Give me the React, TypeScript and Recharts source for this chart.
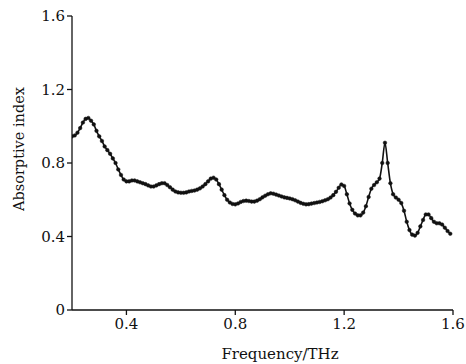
import React from 'react';
import { LineChart, Line, XAxis, YAxis, Label } from 'recharts';

const frequency = [
  0.20, 0.21, 0.22, 0.23, 0.24, 0.25, 0.26, 0.27, 0.28, 0.29,
  0.30, 0.31, 0.32, 0.33, 0.34, 0.35, 0.36, 0.37, 0.38, 0.39,
  0.40, 0.41, 0.42, 0.43, 0.44, 0.45, 0.46, 0.47, 0.48, 0.49,
  0.50, 0.51, 0.52, 0.53, 0.54, 0.55, 0.56, 0.57, 0.58, 0.59,
  0.60, 0.61, 0.62, 0.63, 0.64, 0.65, 0.66, 0.67, 0.68, 0.69,
  0.70, 0.71, 0.72, 0.73, 0.74, 0.75, 0.76, 0.77, 0.78, 0.79,
  0.80, 0.81, 0.82, 0.83, 0.84, 0.85, 0.86, 0.87, 0.88, 0.89,
  0.90, 0.91, 0.92, 0.93, 0.94, 0.95, 0.96, 0.97, 0.98, 0.99,
  1.00, 1.01, 1.02, 1.03, 1.04, 1.05, 1.06, 1.07, 1.08, 1.09,
  1.10, 1.11, 1.12, 1.13, 1.14, 1.15, 1.16, 1.17, 1.18, 1.19,
  1.20, 1.21, 1.22, 1.23, 1.24, 1.25, 1.26, 1.27, 1.28, 1.29,
  1.30, 1.31, 1.32, 1.33, 1.34, 1.35, 1.36, 1.37, 1.38, 1.39,
  1.40, 1.41, 1.42, 1.43, 1.44, 1.45, 1.46, 1.47, 1.48, 1.49,
  1.50, 1.51, 1.52, 1.53, 1.54, 1.55, 1.56, 1.57, 1.58, 1.59,
];

const absorptiveIndex = [
  0.945, 0.95, 0.965, 0.99, 1.02, 1.04, 1.045, 1.03, 1.01, 0.975,
  0.945, 0.92, 0.89, 0.87, 0.85, 0.825, 0.80, 0.765, 0.735, 0.71,
  0.70, 0.70, 0.705, 0.705, 0.70, 0.695, 0.69, 0.685, 0.678, 0.672,
  0.672, 0.678, 0.685, 0.69, 0.69, 0.68, 0.668, 0.655, 0.645, 0.64,
  0.638, 0.638, 0.64, 0.645, 0.648, 0.65, 0.655, 0.662, 0.672, 0.685,
  0.70, 0.715, 0.72, 0.71, 0.685, 0.655, 0.625, 0.60, 0.585, 0.577,
  0.575, 0.58, 0.588, 0.593, 0.595, 0.593, 0.59, 0.59, 0.595, 0.603,
  0.613, 0.622, 0.63, 0.635, 0.633, 0.628, 0.623, 0.618, 0.613, 0.61,
  0.607, 0.603, 0.597, 0.59, 0.583, 0.578, 0.575, 0.576, 0.579, 0.582,
  0.585, 0.588, 0.592, 0.597, 0.603, 0.612, 0.625, 0.643, 0.665, 0.683,
  0.675, 0.63, 0.58, 0.545, 0.525, 0.515, 0.515, 0.53, 0.565, 0.615,
  0.66, 0.68, 0.695, 0.715, 0.80, 0.91, 0.80, 0.69, 0.63, 0.612,
  0.60, 0.582, 0.54, 0.48, 0.435, 0.41, 0.405, 0.42, 0.455, 0.49,
  0.52, 0.52, 0.50, 0.48, 0.472, 0.472, 0.465, 0.448, 0.43, 0.415,
];

const xTicks = [0.4, 0.8, 1.2, 1.6];
const yTicks = [0, 0.4, 0.8, 1.2, 1.6];

const xTitle = 'Frequency/THz';
const yTitle = 'Absorptive index';

const data = frequency.map((f, i) => ({ f, v: absorptiveIndex[i] }));

const FONT = '"DejaVu Serif", serif';
const tickStyle = { fontFamily: FONT, fontSize: 15, fill: '#111' };

export default function App() {
  return (
    <div style={{ position: 'absolute', left: 0, top: 0, background: '#fff' }}>
      <LineChart
        width={466}
        height={364}
        data={data}
        margin={{ top: 16, right: 13, bottom: 20, left: 32 }}
      >
        <XAxis
          dataKey="f"
          type="number"
          domain={[0.2, 1.6]}
          ticks={xTicks}
          tickFormatter={(v: number) => v.toFixed(1)}
          allowDataOverflow
          height={34}
          tickSize={5}
          tickMargin={3}
          stroke="#111"
          strokeWidth={1.3}
          tick={tickStyle}
        >
          <Label
            content={() => (
              <text
                x={280}
                y={359}
                textAnchor="middle"
                style={{ fontFamily: FONT, fontSize: 15, fill: '#111' }}
              >
                {xTitle}
              </text>
            )}
          />
        </XAxis>
        <YAxis
          type="number"
          domain={[0, 1.6]}
          ticks={yTicks}
          tickFormatter={(v: number) => (v === 0 ? '0' : v.toFixed(1))}
          width={40}
          tickSize={5}
          tickMargin={2}
          stroke="#111"
          strokeWidth={1.3}
          tick={tickStyle}
        >
          <Label
            content={() => (
              <text
                x={19}
                y={149}
                transform="rotate(-90 19 149)"
                textAnchor="middle"
                dominantBaseline="central"
                style={{ fontFamily: FONT, fontSize: 14.5, fill: '#111' }}
              >
                {yTitle}
              </text>
            )}
          />
        </YAxis>
        <Line
          type="monotone"
          dataKey="v"
          stroke="#111"
          strokeWidth={1.6}
          dot={{ r: 1.8, fill: '#111', stroke: '#111', strokeWidth: 0.5 }}
          isAnimationActive={false}
        />
      </LineChart>
    </div>
  );
}
